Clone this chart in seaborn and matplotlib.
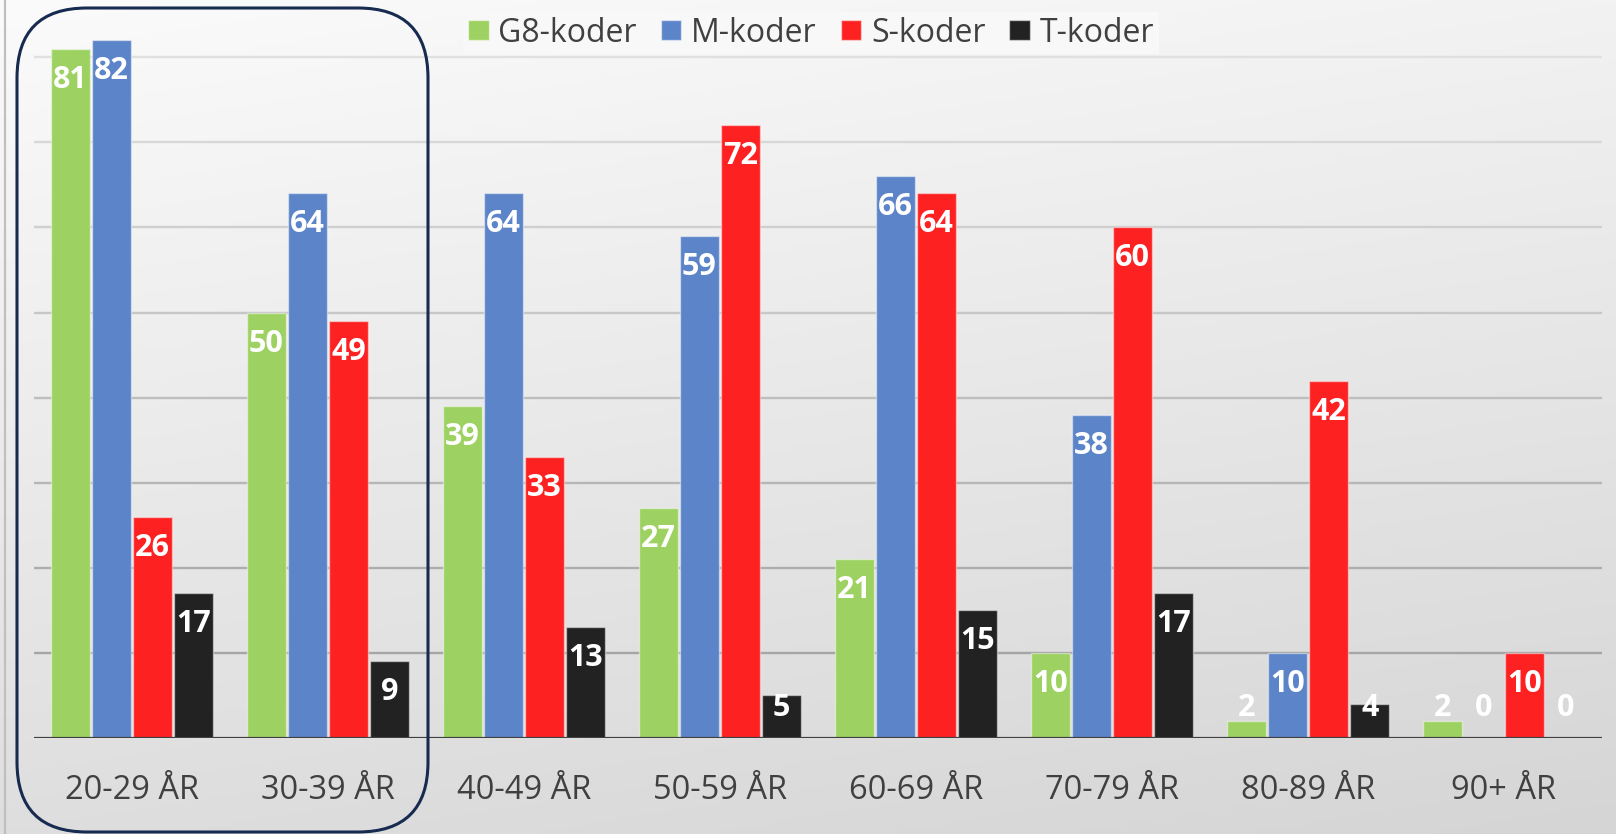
import numpy as np
import pandas as pd
import matplotlib
matplotlib.use("Agg")
import matplotlib.pyplot as plt
import seaborn as sns
from matplotlib.patches import FancyBboxPatch
from matplotlib.lines import Line2D
from matplotlib.transforms import Affine2D

# ---------------- data ----------------
categories = ["20-29 ÅR", "30-39 ÅR", "40-49 ÅR", "50-59 ÅR",
              "60-69 ÅR", "70-79 ÅR", "80-89 ÅR", "90+ ÅR"]
series_names = ["G8-koder", "M-koder", "S-koder", "T-koder"]
g8_values = [81, 50, 39, 27, 21, 10, 2, 2]
m_values = [82, 64, 64, 59, 66, 38, 10, 0]
s_values = [26, 49, 33, 72, 64, 60, 42, 10]
t_values = [17, 9, 13, 5, 15, 17, 4, 0]
gridline_values = [10, 20, 30, 40, 50, 60, 70, 80]

colors = ["#9DD262", "#5B84C9", "#FD2121", "#222222"]

rows = []
for name, vals in zip(series_names, [g8_values, m_values, s_values, t_values]):
    for c, v in zip(categories, vals):
        rows.append({"cat": c, "series": name, "value": v})
df = pd.DataFrame(rows)

# ---------------- figure ----------------
W, H = 1616, 834
DPI = 100
sns.set_theme(style="white")
plt.rcParams["font.family"] = ["Open Sans", "DejaVu Sans"]

fig = plt.figure(figsize=(W / DPI, H / DPI), dpi=DPI)
px = Affine2D().scale(1.0 / W, 1.0 / H) + fig.transFigure  # pixel coords (origin bottom-left)

# background gradient
bg_ax = fig.add_axes([0, 0, 1, 1], zorder=-10)
yy, xx = np.mgrid[0:1:200j, 0:1:400j]
shade = 251 - 29 * yy - 9 * xx
img = np.dstack([shade, shade, shade]) / 255.0
bg_ax.imshow(img, aspect="auto", extent=[0, 1, 0, 1], origin="upper")
bg_ax.axis("off")

# main axes
base_y = 738
top_y = 3
left_x, right_x = 34, 1602
ax = fig.add_axes([left_x / W, 1 - base_y / H, (right_x - left_x) / W, (base_y - top_y) / H])
ax.set_facecolor("none")
ppu = 8.51  # pixels per unit
ax.set_ylim(0, (base_y - top_y) / ppu)

sns.barplot(data=df, x="cat", y="value", hue="series", order=categories,
            hue_order=series_names, palette=colors, width=0.84, gap=0.04,
            edgecolor=(1, 1, 1, 0.45), linewidth=1.0, ax=ax, zorder=3,
            legend=True, saturation=1)
ax.set_xlim(-0.5, len(categories) - 0.5)

# gridlines
for v in gridline_values:
    c = 224 - (80 - v) / 70.0 * (224 - 165)
    ax.axhline(v, color=(c / 255, c / 255, c / 255), lw=1.7, zorder=1)
ax.axhline(0, color="#404040", lw=2.3, zorder=5)

# data labels
n = len(series_names)
bar_w = 0.84 / n
for i, (name, vals) in enumerate(zip(series_names, [g8_values, m_values, s_values, t_values])):
    for j, v in enumerate(vals):
        xpos = j - 0.42 + bar_w * (i + 0.5)
        ypos = max(v - 3.65, 3.5)
        ax.text(xpos, ypos, str(v), ha="center", va="center", color="white",
                fontsize=22, fontweight="bold", zorder=6)

# axes styling
for sp in ax.spines.values():
    sp.set_visible(False)
ax.set_yticks([])
ax.set_xlabel("")
ax.set_ylabel("")
ax.tick_params(axis="x", length=0, pad=26, labelsize=23.5, labelcolor="#404040")

# legend
handles = [plt.Rectangle((0, 0), 1, 1, facecolor=c, edgecolor=(1, 1, 1, 0.5), lw=1) for c in colors]
ax.legend(handles, series_names, loc="center", bbox_to_anchor=(811 / W, 1 - 33 / H),
          bbox_transform=fig.transFigure, ncol=4, frameon=True, fontsize=23,
          handlelength=0.65, handleheight=0.6, handletextpad=0.3, columnspacing=0.75,
          borderpad=0.15, fancybox=False, framealpha=1, facecolor="#F8F8F8",
          edgecolor="none", labelcolor="#404040")

# left frame line
fig.add_artist(Line2D([5, 5], [0, H], transform=px, color="#BFBFBF", lw=1.6))

# rounded highlight box
box = FancyBboxPatch((17, 2), 411, 824, boxstyle="round,pad=0,rounding_size=70",
                     transform=px, facecolor="none", edgecolor="#172B50", lw=2.2, zorder=20)
fig.add_artist(box)

fig.savefig("out.png", dpi=DPI)
